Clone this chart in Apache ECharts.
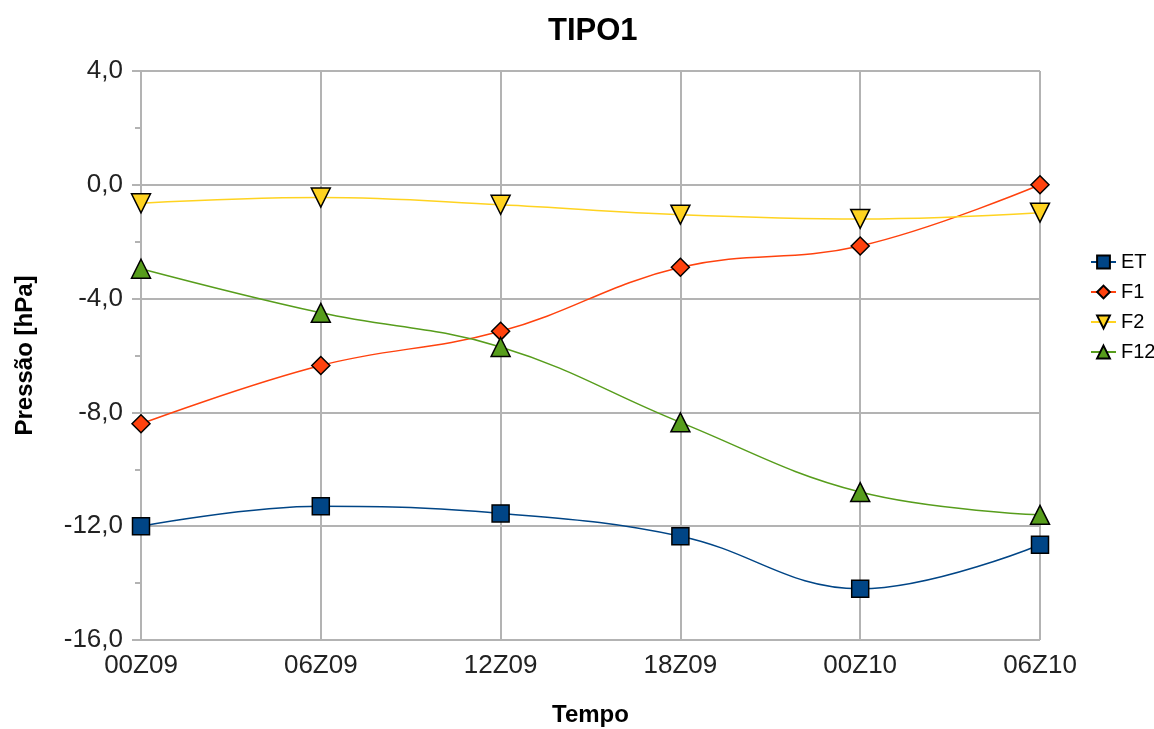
<!DOCTYPE html>
<html>
<head>
<meta charset="utf-8">
<script src="https://cdn.jsdelivr.net/npm/echarts@6/dist/echarts.min.js"></script>
<style>
  html, body { margin: 0; padding: 0; background: #fff; }
  #chart { width: 1154px; height: 729px; }
</style>
</head>
<body>
<div id="chart"></div>
<script>
// Horários das análises
const categories = ['00Z09', '06Z09', '12Z09', '18Z09', '00Z10', '06Z10'];

// Pressão (hPa) por série
const etValues  = [-12.0, -11.3, -11.55, -12.35, -14.2, -12.65];
const f1Values  = [-8.4, -6.35, -5.15, -2.9, -2.15, 0.0];
const f2Values  = [-0.65, -0.45, -0.7, -1.05, -1.2, -0.98];
const f12Values = [-2.95, -4.5, -5.7, -8.35, -10.8, -11.6];

const FONT = '"Liberation Sans", Arial, sans-serif';
const GRID_COLOR = '#b3b3b3';
const fmt = v => v.toFixed(1).replace('.', ',');

const chart = echarts.init(document.getElementById('chart'), null, { renderer: 'canvas' });

function makeSeries(name, data, color, symbol, size, rotate) {
  return {
    name: name,
    type: 'line',
    data: data,
    smooth: 0.4,
    symbol: symbol,
    symbolSize: size,
    symbolRotate: rotate || 0,
    showAllSymbol: true,
    lineStyle: { color: color, width: 1.5 },
    itemStyle: { color: color, borderColor: '#000', borderWidth: 1.5 },
    emphasis: { disabled: true },
    z: 3
  };
}

chart.setOption({
  animation: false,
  backgroundColor: '#fff',
  textStyle: { fontFamily: FONT },
  title: {
    text: 'TIPO1',
    left: 543,
    top: 11,
    textStyle: { fontFamily: FONT, fontSize: 31, fontWeight: 'bold', color: '#000' }
  },
  legend: {
    orient: 'vertical',
    left: 1085,
    top: 247,
    itemWidth: 25,
    itemHeight: 16,
    itemGap: 10,
    textStyle: { fontFamily: FONT, fontSize: 20, lineHeight: 20, color: '#000' },
    data: ['ET', 'F1', 'F2', 'F12']
  },
  grid: { left: 141, right: 114, top: 71, bottom: 89, outerBoundsMode: 'none', containLabel: false },
  xAxis: {
    type: 'category',
    data: categories,
    boundaryGap: false,
    name: 'Tempo',
    nameLocation: 'middle',
    nameGap: 63,
    nameTextStyle: { fontFamily: FONT, fontSize: 24, fontWeight: 'bold', color: '#000' },
    axisLine: { lineStyle: { color: GRID_COLOR, width: 2 } },
    axisTick: { show: true, length: 9, lineStyle: { color: GRID_COLOR, width: 2 } },
    axisLabel: { fontFamily: FONT, fontSize: 26, color: '#222', margin: 13 },
    splitLine: { show: true, lineStyle: { color: GRID_COLOR, width: 2 } }
  },
  yAxis: {
    type: 'value',
    min: -16,
    max: 4,
    interval: 4,
    name: 'Pressão [hPa]',
    nameLocation: 'middle',
    nameGap: 104,
    nameTextStyle: { fontFamily: FONT, fontSize: 24, fontWeight: 'bold', color: '#000' },
    axisLine: { show: true, lineStyle: { color: GRID_COLOR, width: 2 } },
    axisTick: { show: true, length: 9, lineStyle: { color: GRID_COLOR, width: 2 } },
    minorTick: { show: true, splitNumber: 2, length: 6, lineStyle: { color: GRID_COLOR, width: 2 } },
    axisLabel: { fontFamily: FONT, fontSize: 26, color: '#222', margin: 18, formatter: fmt },
    splitLine: { show: true, lineStyle: { color: GRID_COLOR, width: 2 } }
  },
  series: [
    makeSeries('ET', etValues, '#004586', 'rect', 17),
    makeSeries('F1', f1Values, '#ff420e', 'diamond', 18),
    makeSeries('F2', f2Values, '#ffd320', 'triangle', 19, 180),
    makeSeries('F12', f12Values, '#579d1c', 'triangle', 19)
  ]
});
</script>
</body>
</html>
